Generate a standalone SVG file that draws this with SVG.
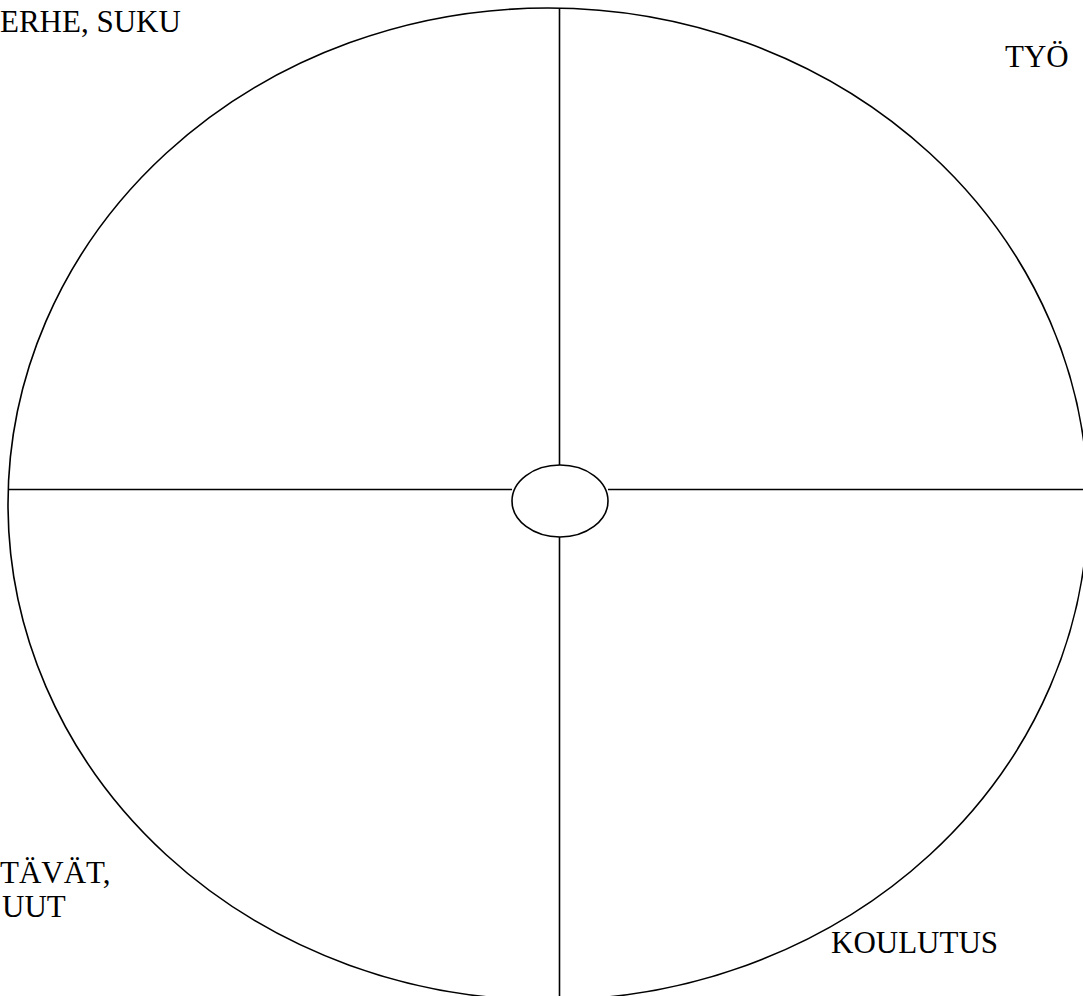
<svg xmlns="http://www.w3.org/2000/svg" width="1083" height="996" viewBox="0 0 1083 996">
<style>
.ln{fill:none;stroke:#000;stroke-width:1.6}
text{font-family:'Liberation Serif','Times New Roman',serif;font-size:31px;fill:#000}
</style>
<rect width="1083" height="996" fill="#fff"/>
<g id="outer"><ellipse class="ln" cx="548" cy="504" rx="540" ry="496"/></g>
<g id="connectors">
<line class="ln" x1="559.5" y1="9" x2="559.5" y2="465"/>
<line class="ln" x1="559.5" y1="537" x2="559.5" y2="996"/>
<line class="ln" x1="8" y1="489.5" x2="512" y2="489.5"/>
<line class="ln" x1="608" y1="489.5" x2="1083" y2="489.5"/>
</g>
<g id="center"><ellipse class="ln" cx="560" cy="501" rx="48" ry="36"/></g>
<g id="perhe"><text x="0" y="32">ERHE, SUKU</text></g>
<g id="tyo"><text x="1005" y="67">TYÖ</text></g>
<g id="ystavat"><text x="0" y="883">TÄVÄT,</text><text x="2" y="917">UUT</text></g>
<g id="koulutus"><text x="831" y="953">KOULUTUS</text></g>
</svg>
